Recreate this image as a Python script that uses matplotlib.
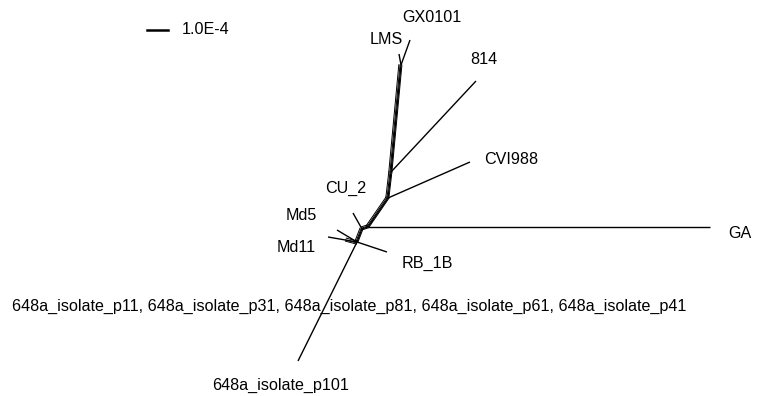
import matplotlib
matplotlib.use("Agg")
import matplotlib.pyplot as plt

# node positions of the split network (pixel space of the original drawing)
node_names = ["top", "GX0101", "LMS", "j814", "814", "jCVI", "CVI988", "jGA", "GA",
              "jCU", "CU_2", "jMd", "Md5", "Md11", "RB_1B", "p101", "box"]
node_x = [401, 410, 399, 391, 476, 388, 470, 368, 710, 362, 353, 357, 337, 328, 387, 298, 346]
node_y = [65, 40, 54, 172, 81, 198, 162, 227, 227, 229, 213, 242, 230, 237, 252, 361, 239]

edges = [("top", "GX0101"), ("top", "LMS"), ("top", "j814"), ("j814", "814"),
         ("j814", "jCVI"), ("jCVI", "CVI988"), ("jCVI", "jGA"), ("jGA", "GA"),
         ("jGA", "jCU"), ("jCU", "CU_2"), ("jCU", "jMd"), ("jMd", "Md5"),
         ("jMd", "Md11"), ("jMd", "RB_1B"), ("jMd", "p101")]
# trunk edges drawn as several parallel splits
split_edges = [("top", "j814"), ("j814", "jCVI"), ("jCVI", "jGA"), ("jGA", "jCU"),
               ("jCU", "jMd"), ("box", "jMd")]
split_offsets = [-0.9, 1.0, 2.2]

label_text = ["GX0101", "LMS", "814", "CVI988", "GA", "CU_2", "Md5", "Md11", "RB_1B",
              "648a_isolate_p101",
              "648a_isolate_p11, 648a_isolate_p31, 648a_isolate_p81, 648a_isolate_p61, 648a_isolate_p41"]
label_x = [402, 370, 470, 484, 728, 325, 286, 277, 402, 212, 12]
label_y = [18, 39, 60, 160, 233, 188, 216, 247, 263, 385, 306]

scale_x = [147, 168]
scale_y = [30, 30]
scale_label = "1.0E-4"

plt.rcParams['font.family'] = ['Liberation Sans', 'DejaVu Sans']

fig = plt.figure(figsize=(7.67, 3.96), dpi=100)
ax = fig.add_axes([0, 0, 1, 1])
ax.set_xlim(0, 767)
ax.set_ylim(396, 0)
ax.axis("off")

pos = {n: (x, y) for n, x, y in zip(node_names, node_x, node_y)}

for a, b in edges:
    (x0, y0), (x1, y1) = pos[a], pos[b]
    ax.plot([x0, x1], [y0, y1], color="black", lw=1.0, solid_capstyle="butt")

for a, b in split_edges:
    (x0, y0), (x1, y1) = pos[a], pos[b]
    dx, dy = x1 - x0, y1 - y0
    length = (dx ** 2 + dy ** 2) ** 0.5
    nx, ny = -dy / length, dx / length
    for off in split_offsets:
        ax.plot([x0 + nx * off, x1 + nx * off], [y0 + ny * off, y1 + ny * off],
                color="black", lw=0.7)

for t, x, y in zip(label_text, label_x, label_y):
    ax.text(x, y, t, fontsize=11.6, ha="left", va="center", color="black")

ax.plot(scale_x, scale_y, color="black", lw=1.8)
ax.text(182, 30, scale_label, fontsize=11.6, ha="left", va="center")

fig.savefig("out.png", dpi=100)
